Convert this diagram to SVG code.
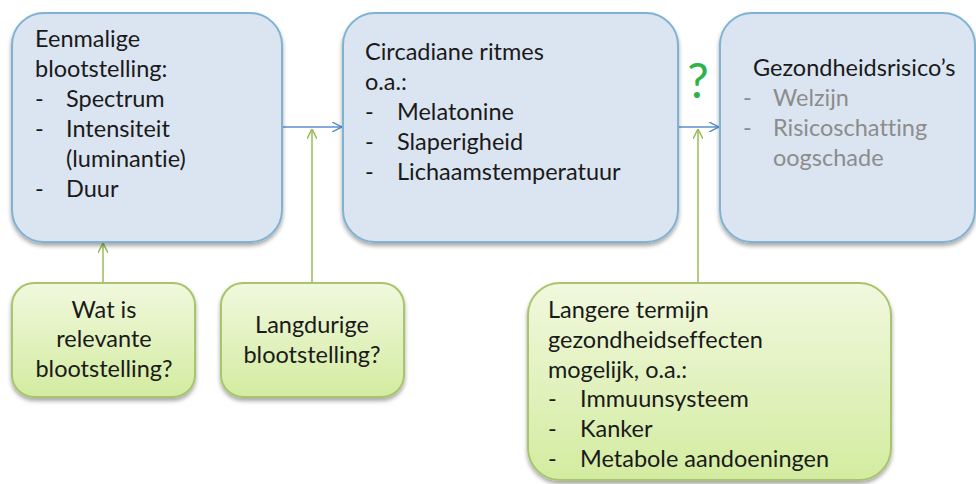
<svg xmlns="http://www.w3.org/2000/svg" width="976" height="484" viewBox="0 0 976 484">
<defs>
  <linearGradient id="gGreen" x1="0" y1="0" x2="0" y2="1">
    <stop offset="0" stop-color="#f1f8de"/>
    <stop offset="1" stop-color="#d3eca0"/>
  </linearGradient>
  <filter id="shadow" x="-10%" y="-10%" width="120%" height="125%">
    <feGaussianBlur in="SourceAlpha" stdDeviation="2"/>
    <feOffset dx="0" dy="3" result="b"/>
    <feComponentTransfer><feFuncA type="linear" slope="0.35"/></feComponentTransfer>
    <feMerge><feMergeNode/><feMergeNode in="SourceGraphic"/></feMerge>
  </filter>
  <marker id="arrBlue" viewBox="0 0 10 10" refX="10" refY="5" markerWidth="10" markerHeight="10" markerUnits="userSpaceOnUse" orient="auto">
    <path d="M0,0 L10,5 L0,10" fill="none" stroke="#5b8fcc" stroke-width="1.5"/>
  </marker>
  <marker id="arrGreen" viewBox="0 0 10 10" refX="10" refY="5" markerWidth="10" markerHeight="10" markerUnits="userSpaceOnUse" orient="auto">
    <path d="M0,0 L10,5 L0,10" fill="none" stroke="#9bbb59" stroke-width="1.5"/>
  </marker>
</defs>
<style>
  .blue { fill: #dbe5f1; stroke: #7fb2d3; stroke-width: 2; }
  .green { fill: url(#gGreen); stroke: #a8c56c; stroke-width: 2; }
  text { font-family: Lato, "Open Sans", "Liberation Sans", sans-serif; font-size: 23.5px; fill: #1a1a1a; font-variant-ligatures: none; font-feature-settings: "liga" 0, "clig" 0; }
  .gray { fill: #8c8c8c; }
  .c { text-anchor: middle; }
  .q { font-size: 48px; fill: #2db34a; }
  .lb { stroke: #5b8fcc; stroke-width: 1.5; fill: none; }
  .lg { stroke: #9bbb59; stroke-width: 1.5; fill: none; }
</style>
<rect width="976" height="484" fill="#ffffff"/>

<g id="connectors">
  <line class="lb" x1="282" y1="127" x2="342" y2="127" marker-end="url(#arrBlue)"/>
  <line class="lb" x1="678" y1="127" x2="719" y2="127" marker-end="url(#arrBlue)"/>
  <line class="lg" x1="103" y1="283" x2="103" y2="243" marker-end="url(#arrGreen)"/>
  <line class="lg" x1="312" y1="283" x2="312" y2="129" marker-end="url(#arrGreen)"/>
  <line class="lg" x1="698" y1="283" x2="698" y2="129" marker-end="url(#arrGreen)"/>
</g>

<g id="node-eenmalig">
  <rect class="blue" filter="url(#shadow)" x="12" y="13" width="270" height="229" rx="32"/>
  <text x="35" y="47">Eenmalige</text>
  <text x="35" y="77">blootstelling:</text>
  <text x="35" y="107">-</text><text x="66" y="107">Spectrum</text>
  <text x="35" y="137">-</text><text x="66" y="137">Intensiteit</text>
  <text x="66" y="167">(luminantie)</text>
  <text x="35" y="197">-</text><text x="66" y="197">Duur</text>
</g>

<g id="node-circadiaan">
  <rect class="blue" filter="url(#shadow)" x="343" y="13" width="335" height="229" rx="32"/>
  <text x="365" y="60">Circadiane ritmes</text>
  <text x="365" y="90">o.a.:</text>
  <text x="365" y="120">-</text><text x="397" y="120">Melatonine</text>
  <text x="365" y="150">-</text><text x="397" y="150">Slaperigheid</text>
  <text x="365" y="180">-</text><text x="397" y="180">Lichaamstemperatuur</text>
</g>

<g id="node-vraag">
  <text class="q c" x="698" y="98">?</text>
</g>

<g id="node-gezondheid">
  <rect class="blue" filter="url(#shadow)" x="720" y="13" width="255" height="229" rx="32"/>
  <text x="753" y="76">Gezondheidsrisico’s</text>
  <text class="gray" x="743" y="106">-</text><text class="gray" x="773" y="106">Welzijn</text>
  <text class="gray" x="743" y="136">-</text><text class="gray" x="773" y="136">Risicoschatting</text>
  <text class="gray" x="773" y="166">oogschade</text>
</g>

<g id="node-relevant">
  <rect class="green" filter="url(#shadow)" x="12" y="283" width="183" height="114" rx="22"/>
  <text class="c" x="104" y="318">Wat is</text>
  <text class="c" x="104" y="347">relevante</text>
  <text class="c" x="104" y="377">blootstelling?</text>
</g>

<g id="node-langdurig">
  <rect class="green" filter="url(#shadow)" x="221" y="283" width="183" height="114" rx="22"/>
  <text class="c" x="312" y="333">Langdurige</text>
  <text class="c" x="312" y="363">blootstelling?</text>
</g>

<g id="node-langere">
  <rect class="green" filter="url(#shadow)" x="528" y="283" width="363" height="197" rx="32"/>
  <text x="548" y="318">Langere termijn</text>
  <text x="548" y="348">gezondheidseffecten</text>
  <text x="548" y="378">mogelijk, o.a.:</text>
  <text x="548" y="407">-</text><text x="580" y="407">Immuunsysteem</text>
  <text x="548" y="437">-</text><text x="580" y="437">Kanker</text>
  <text x="548" y="467">-</text><text x="580" y="467">Metabole aandoeningen</text>
</g>
</svg>
